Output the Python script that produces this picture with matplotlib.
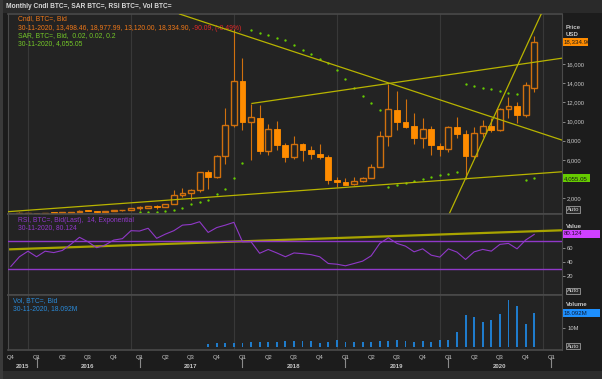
import matplotlib

matplotlib.use("Agg")

import matplotlib.pyplot as plt
from matplotlib.patches import Rectangle

# monthly bars, Oct 2015 .. Nov 2020 (index 0 = Oct 2015)
opens = [237, 315, 377, 430, 368, 437, 416, 448, 531, 673, 624, 573,
         608, 700, 745, 960, 970, 1190, 1080, 1350, 2300, 2480, 2870, 4720,
         4250, 6380, 9680, 14250, 9980, 10400, 6900, 9240, 7500, 6300, 7700, 7000,
         6600, 6300, 3900, 3700, 3420, 3780, 4100, 5250, 8450, 11200, 10000, 9500,
         8250, 9200, 7450, 7180, 9400, 8650, 6400, 8800, 9500, 9140, 11330, 11660,
         10650, 13498.46]
highs = [330, 495, 465, 460, 440, 440, 470, 550, 780, 705, 627, 615,
         720, 755, 975, 1150, 1210, 1300, 1350, 2790, 3000, 2950, 4750, 4980,
         6450, 11400, 19660, 16700, 11880, 11700, 9750, 10050, 7750, 8500, 7750, 7400,
         7680, 6500, 4250, 4100, 4200, 4150, 5600, 9000, 13900, 13200, 12350, 10950,
         10400, 9550, 7750, 9580, 10500, 9150, 9450, 10150, 10400, 11450, 12600, 12100,
         14150, 18977.99]
lows = [235, 300, 350, 350, 365, 400, 410, 440, 530, 600, 470, 570,
        600, 680, 740, 750, 915, 890, 1060, 1340, 2100, 1840, 2650, 2900,
        4100, 5600, 9400, 9100, 5940, 6600, 6450, 7000, 5750, 6100, 5880, 6100,
        6100, 3500, 3150, 3350, 3380, 3700, 4050, 5200, 7450, 9100, 9350, 7700,
        7250, 6550, 6430, 6850, 8300, 3950, 6200, 8400, 8900, 8980, 10350, 9900,
        10450, 13120.00]
closes = [315, 377, 430, 368, 437, 416, 448, 531, 673, 624, 573, 608,
          700, 745, 960, 970, 1190, 1080, 1350, 2300, 2480, 2870, 4720, 4150,
          6380, 9680, 14250, 9980, 10450, 6900, 9240, 7500, 6300, 7700, 7000, 6580,
          6280, 3860, 3700, 3380, 3790, 4120, 5240, 8450, 11300, 10000, 9480, 8260,
          9240, 7500, 7180, 9400, 8650, 6400, 8800, 9500, 9140, 11330, 11660, 10650,
          13850, 18334.90]

# parabolic SAR, Jan 2017 .. Nov 2020
sar_start = 15
sar = [500, 560, 570, 670, 740, 980, 1340, 1610, 1790, 2420, 2940, 4090,
       5630, 19590, 19310, 19030, 18780, 18510, 18020, 17530, 17050, 16580, 16170, 15370,
       14430, 13490, 12710, 11910, 11210, 3180, 3330, 3600, 3750, 4020, 4200, 4380,
       4540, 4720, 13940, 13760, 13550, 13380, 13200, 13020, 12860, 3850, 4055.05]

# RSI(14), Oct 2015 .. Nov 2020
rsi = [34, 48, 56, 48, 56, 54, 57, 66, 76, 69.5, 61, 65,
       72, 74, 85.5, 85, 89, 74.5, 80.5, 85.5, 93.5, 94.5, 98.4, 83,
       90, 93.5, 97.5, 69.5, 69.5, 53, 58.5, 53.5, 48, 53.5, 52.5, 51,
       48, 38.3, 37.3, 35, 38.3, 41.7, 49.4, 67.2, 75.3, 67.2, 63.3, 55.1,
       59.4, 50.3, 47.5, 59.4, 54.7, 44.1, 55.1, 58.6, 56.1, 65.8, 67.2, 59.4,
       72, 80.124]

# volume (millions), Sep 2017 .. Nov 2020
vol_start = 23
volume = [1.3, 1.8, 2.2, 2.2, 2.2, 2.5, 2.6, 2.7, 2.8, 2.9, 3.3, 3.3,
          3.1, 2.0, 2.7, 3.5, 2.7, 2.5, 2.5, 2.5, 3.1, 3.1, 3.5, 3.1,
          2.7, 3.1, 2.7, 3.5, 3.6, 8.1, 17.2, 15.9, 13.6, 14.3, 17.6, 25.3,
          22.1, 12.1, 18.092]

# trend lines drawn on the chart: (month index, value) pairs
support_line = [(0, 590), (64, 4730)]
falling_line = [(26.5, 19240), (62.8, 8490)]
channel_top = [(28.1, 11900), (62.8, 16450)]
steep_line = [(51.3, 740), (59.35, 16450)]
rsi_trend = [(-0.3, 58.6), (64.3, 86.1)]

price_ticks = list(range(2000, 20000, 2000))
price_labels = ["" if v in (4000, 18000) else f"{v:,}" for v in price_ticks]
quarter_pos = list(range(0, 64, 3))
quarter_labels = ["Q4", "Q1", "Q2", "Q3"] * 5 + ["Q4", "Q1"]
year_pos = [1.4, 9, 21, 33, 45, 57]
year_labels = ["2015", "2016", "2017", "2018", "2019", "2020"]
year_ends = [2, 14, 26, 38, 50, 62]

W, H = 602, 379
BG = "#232323"
ORANGE = "#ff8c00"
WICK = "#d0700e"
GREEN = "#66cc00"
PURPLE = "#9038c8"
YELLOW = "#b8b400"
BLUE = "#1f7ccc"
TXT = "#c8c8c8"
plt.rcParams["font.family"] = ["Liberation Sans", "DejaVu Sans"]

fig = plt.figure(figsize=(W / 100, H / 100), dpi=100, facecolor="#1c1c1c")


def fx(x):
    return x / W


def fy(y):
    return 1 - y / H


def add_panel(top, bottom, ylim):
    ax = fig.add_axes([fx(8), fy(bottom), (562 - 8) / W, (bottom - top) / H])
    ax.set_facecolor(BG)
    ax.set_xlim(-0.33, 64.24)
    ax.set_ylim(*ylim)
    for side, sp in ax.spines.items():
        sp.set_color("#4a4a4a")
        sp.set_linewidth(1.2 if side in ("top", "bottom") else 0.8)
    ax.tick_params(left=False, labelleft=False, bottom=False, labelbottom=False,
                   right=True, labelright=True, length=2.2, width=0.6,
                   color="#9a9a9a", labelsize=4.2, labelcolor=TXT, pad=1.2)
    for m in year_ends:
        ax.axvline(m, color="#383838", lw=0.8, zorder=0)
    return ax


# pixel rows: price 14-214, RSI 214-295, volume 295-350
ax_p = add_panel(14, 214, (325, 21265))
ax_r = add_panel(214, 295, (-7.0, 109.5))
ax_v = add_panel(295, 350, (-1.79, 28.0))

# candles
for i, (o, h, l, c) in enumerate(zip(opens, highs, lows, closes)):
    up = c >= o
    ax_p.vlines(i, l, h, color=WICK, lw=0.8, zorder=2)
    lo, hi = min(o, c), max(o, c)
    hi = max(hi, lo + 90)
    if up:
        ax_p.bar(i, hi - lo, bottom=lo, width=0.68, facecolor=BG, edgecolor=WICK,
                 linewidth=1.0, zorder=3)
    else:
        ax_p.bar(i, hi - lo, bottom=lo, width=0.68, facecolor=ORANGE, edgecolor=ORANGE,
                 linewidth=0.6, zorder=3)

ax_p.plot(range(sar_start, sar_start + len(sar)), sar, "o", ms=1.7, color=GREEN,
          mec="none", zorder=4)

for line in (support_line, falling_line, steep_line):
    ax_p.axline(line[0], line[1], color=YELLOW, lw=0.9, zorder=5)
(x0, y0), (x1, y1) = channel_top
slope = (y1 - y0) / (x1 - x0)
ax_p.plot([x0, 64.3], [y0, y0 + slope * (64.3 - x0)], color=YELLOW, lw=0.9, zorder=5)

ax_p.set_yticks(price_ticks)
ax_p.set_yticklabels(price_labels)

# RSI
ax_r.axline(rsi_trend[0], rsi_trend[1], color="#a8a400", lw=1.6, zorder=2)
ax_r.axhline(70, color=PURPLE, lw=1.0, zorder=3)
ax_r.axhline(30, color=PURPLE, lw=1.0, zorder=3)
ax_r.plot(range(len(rsi)), rsi, color=PURPLE, lw=0.8, zorder=4)
ax_r.set_yticks([20, 40, 60, 80])
ax_r.set_yticklabels(["20", "40", "60", ""])

# volume
ax_v.bar(range(vol_start, vol_start + len(volume)), volume, width=0.22, color=BLUE,
         zorder=3)
ax_v.set_yticks([10])
ax_v.set_yticklabels(["10M"])
ax_v.tick_params(bottom=False, labelbottom=True, labelsize=4.2, pad=1.5)
ax_v.set_xticks(quarter_pos)
ax_v.set_xticklabels(quarter_labels)
for xp, lab in zip(year_pos, year_labels):
    ax_v.text(xp, -0.3, lab, transform=ax_v.get_xaxis_transform(), ha="center",
              va="center", fontsize=4.3, fontweight="bold", color=TXT, clip_on=False)
for m in range(3, 64, 12):
    ax_v.plot([m, m], [-0.12, -0.3], transform=ax_v.get_xaxis_transform(),
              color="#8a8a8a", lw=0.8, clip_on=False)

# frame pieces
fig.patches.append(Rectangle((0, fy(13)), 1, 13 / H, transform=fig.transFigure,
                             facecolor="#2a2a2a", edgecolor="none", zorder=0))
fig.patches.append(Rectangle((0, 0), 1, 8 / H, transform=fig.transFigure,
                             facecolor="#2c2c2c", edgecolor="none", zorder=0))
fig.patches.append(Rectangle((0, 0), 3 / W, 1, transform=fig.transFigure,
                             facecolor="#3a3a3a", edgecolor="none", zorder=0))
fig.text(fx(6), fy(6.5), "Monthly Cndl BTC=, SAR BTC=, RSI BTC=, Vol BTC=",
         fontsize=4.8, fontweight="bold", color="#d8d8d8", va="center")

# legends
fs = 4.9
fig.text(fx(18), fy(19), "Cndl, BTC=, Bid", fontsize=fs, color="#f07818", va="center")
t = fig.text(fx(18), fy(28), "30-11-2020, 13,498.46, 18,977.99, 13,120.00, 18,334.90, ",
             fontsize=fs, color="#f07818", va="center")
ax_p.annotate("-90.09, (-0.49%)", xy=(1, 0), xycoords=t, fontsize=fs,
              color="#e02828", va="bottom", ha="left")
fig.text(fx(18), fy(36), "SAR, BTC=, Bid,  0.02, 0.02, 0.2", fontsize=fs,
         color="#74c828", va="center")
fig.text(fx(18), fy(44), "30-11-2020, 4,055.05", fontsize=fs, color="#74c828",
         va="center")
fig.text(fx(18), fy(220.5), "RSI, BTC=, Bid(Last),  14, Exponential", fontsize=fs,
         color=PURPLE, va="center")
fig.text(fx(18), fy(228), "30-11-2020, 80.124", fontsize=fs, color=PURPLE, va="center")
fig.text(fx(13), fy(300.5), "Vol, BTC=, Bid", fontsize=fs, color="#2a8ad8", va="center")
fig.text(fx(13), fy(309), "30-11-2020, 18.092M", fontsize=fs, color="#2a8ad8",
         va="center")

# right side captions and value boxes
fig.text(fx(566), fy(27.5), "Price", fontsize=4.4, fontweight="bold", color=TXT,
         va="center")
fig.text(fx(566), fy(35), "USD", fontsize=4.4, fontweight="bold", color=TXT, va="center")
fig.text(fx(566), fy(226), "Value", fontsize=4.4, fontweight="bold", color=TXT,
         va="center")
fig.text(fx(566), fy(304), "Volume", fontsize=4.4, fontweight="bold", color=TXT,
         va="center")


def value_box(yc, x1, text, fc, tc):
    fig.patches.append(Rectangle((fx(563), fy(yc + 4)), (x1 - 563) / W, 8 / H,
                                 transform=fig.transFigure, facecolor=fc,
                                 edgecolor="none", zorder=5))
    fig.text(fx(564), fy(yc), text, fontsize=4.4, color=tc, va="center", zorder=6)


value_box(41.5, 588, "18,334.90", "#ff8c00", "#1a1a1a")
value_box(178.3, 590, "4,055.05", "#66cc00", "#1a1a1a")
value_box(233.5, 600, "80.124", "#d040ff", "#2a0a33")
value_box(313.3, 600, "18.092M", "#1e90ff", "#0a1a33")

for yc in (209.5, 291, 346):
    fig.text(fx(567), fy(yc), "Auto", fontsize=4.3, color="#d0d0d0", va="center",
             bbox=dict(boxstyle="square,pad=0.15", fc="#2a2a2a", ec="#9a9a9a", lw=0.6))

fig.savefig("out.png", dpi=100, facecolor=fig.get_facecolor())
